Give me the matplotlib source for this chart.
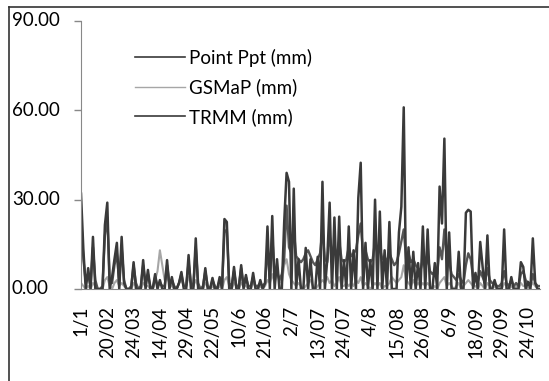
import matplotlib.pyplot as plt
from matplotlib.lines import Line2D
from matplotlib.transforms import blended_transform_factory

# daily rainfall (mm)
point_ppt = [
    32, 13, 0, 7, 0, 17.5, 0, 0, 0, 0, 21.5,
    29, 0, 4, 10, 15.5, 0, 17.5, 2, 0, 0, 0,
    9, 0, 0, 0, 9.7, 0, 6.4, 0, 0, 5, 0,
    3, 0, 0, 9.7, 0, 4, 0, 0, 2, 5.7, 0,
    0, 11.4, 0, 0, 17, 0, 0, 0, 7, 0, 0,
    3.7, 0, 0, 4, 0, 23.5, 22.5, 0, 0, 7.4, 0,
    0, 8, 0, 4.7, 0, 0, 5.4, 0, 0, 3, 0,
    2, 21, 0, 24.5, 0, 10, 0, 0, 22.5, 39, 36,
    0, 33.7, 0, 10, 0, 0, 13.8, 0, 10, 0, 0,
    10.8, 0, 36, 0, 9.7, 29, 0, 24, 0, 24.3, 0,
    9.7, 0, 21, 0, 13, 0, 30.6, 42.4, 0, 15.5, 0,
    9.7, 0, 30, 0, 26, 0, 13, 0, 22.5, 0, 0,
    0, 19, 27.6, 61, 0, 14, 0, 12.5, 0, 8.7, 0,
    21, 0, 20, 0, 0, 8.7, 0, 34.4, 22, 50.5, 0,
    19, 0, 0, 0, 12.5, 0, 0, 25.6, 26.6, 26, 0,
    5.4, 0, 15.8, 7.4, 0, 18, 0, 0, 3, 0, 0,
    0, 20, 0, 0, 4, 0, 0, 0, 9, 7.4, 0,
    2.4, 0, 17, 2, 0, 0,
]
gsmap = [
    2, 1, 0, 1, 0, 2, 1, 0, 0, 0, 3,
    4, 1, 0, 2, 3, 1, 2, 1, 0, 0, 0,
    2, 1, 0, 0, 2, 1, 1, 0, 0, 3, 6,
    13, 8, 3, 4, 2, 1, 0, 0, 2, 3, 1,
    1, 4, 2, 1, 3, 1, 0, 0, 2, 1, 0,
    1, 0, 0, 1, 0, 3, 4, 1, 0, 2, 1,
    0, 2, 1, 1, 0, 0, 2, 1, 0, 1, 0,
    1, 3, 2, 5, 2, 6, 3, 2, 8, 10, 5,
    3, 2, 1, 2, 1, 0, 1, 2, 3, 1, 0,
    1, 2, 3, 2, 4, 2, 3, 1, 2, 4, 1,
    1, 2, 1, 2, 1, 3, 2, 4, 1, 2, 1,
    0, 1, 2, 1, 2, 0, 1, 1, 2, 4, 3,
    2, 3, 4, 8, 3, 2, 1, 3, 1, 2, 1,
    2, 1, 2, 1, 0, 1, 0, 2, 3, 4, 1,
    2, 1, 0, 1, 2, 0, 1, 2, 3, 2, 1,
    1, 0, 2, 1, 0, 2, 1, 0, 1, 0, 1,
    0, 2, 1, 0, 1, 0, 1, 0, 2, 1, 1,
    0, 1, 2, 1, 0, 0,
]
trmm = [
    25, 10, 2, 5, 1, 14, 3, 0, 0, 1, 18,
    24, 3, 2, 8, 12, 2, 14, 3, 0, 0, 1,
    8, 2, 0, 1, 8, 2, 5, 1, 0, 4, 1,
    2, 1, 1, 8, 2, 3, 1, 0, 2, 5, 1,
    1, 9, 2, 1, 14, 2, 0, 1, 6, 1, 0,
    3, 1, 0, 3, 1, 19, 20, 2, 1, 6, 1,
    1, 7, 1, 4, 1, 1, 4, 1, 1, 2, 1,
    2, 14, 3, 18, 4, 6, 3, 5, 10, 28, 14,
    12, 20, 11, 10, 9, 10, 12, 13, 11, 9, 8,
    10, 12, 20, 10, 9, 18, 12, 14, 11, 16, 10,
    9, 10, 14, 11, 12, 13, 18, 22, 12, 13, 10,
    9, 10, 16, 12, 14, 10, 11, 9, 12, 10, 8,
    9, 12, 16, 20, 10, 12, 9, 10, 8, 7, 6,
    10, 7, 11, 6, 5, 6, 5, 14, 10, 20, 10,
    9, 5, 4, 3, 5, 3, 2, 8, 12, 10, 4,
    3, 2, 6, 4, 2, 7, 3, 2, 2, 1, 1,
    2, 6, 2, 1, 3, 1, 2, 1, 5, 6, 3,
    2, 1, 5, 2, 1, 1,
]
date_labels = ['1/1', '20/02', '24/03', '14/04', '29/04', '22/05', '10/6',
               '21/06', '2/7', '13/07', '24/07', '4/8', '15/08', '26/08',
               '6/9', '18/09', '29/09', '24/10']
yticks = [0, 30, 60, 90]

plt.rcParams['font.family'] = ['Lato', 'DejaVu Sans']
fs = 13.5

fig = plt.figure(figsize=(5.49, 3.81), dpi=100)
ax = fig.add_axes([81/549, 1 - 289/381, 459/549, 268/381])

x = range(len(point_ppt))
ax.plot(x, gsmap, color='#a6a6a6', lw=1.5)
ax.plot(x, trmm, color='#555555', lw=1.7)
ax.plot(x, point_ppt, color='#3a3a3a', lw=1.8)

ax.set_xlim(0, len(point_ppt) - 1)
ax.set_ylim(0, 90)

# category ticks every 11th entry
ax.set_xticks([11 * i for i in range(len(date_labels))])
ax.set_xticklabels(date_labels, rotation=90, fontsize=fs)
ax.tick_params(axis='x', length=0, pad=12)

ax.set_yticks(yticks)
ax.set_yticklabels([])
ax.tick_params(axis='y', length=5, width=1, color='#888888', direction='out')
tr = blended_transform_factory(fig.transFigure, ax.transData)
for v in yticks:
    ax.text(12/549, v, f'{v:.2f}', transform=tr, ha='left', va='center',
            fontsize=fs)

for s in ['top', 'right']:
    ax.spines[s].set_visible(False)
ax.spines['left'].set_color('#888888')
ax.spines['bottom'].set_color('#888888')

handles = [Line2D([], [], color='#3a3a3a', lw=1.2),
           Line2D([], [], color='#a6a6a6', lw=1.0),
           Line2D([], [], color='#3a3a3a', lw=1.2)]
ax.legend(handles, ['Point Ppt (mm)', 'GSMaP (mm)', 'TRMM (mm)'],
          loc='upper left', bbox_to_anchor=(0.101, 0.925), borderaxespad=0,
          frameon=False, fontsize=fs, handlelength=2.7, handletextpad=0.2,
          labelspacing=0.62)

# outer frame of the picture
fig.add_artist(Line2D([9/549, 1], [1 - 7/381, 1 - 7/381], color='#333333', lw=1.2))
fig.add_artist(Line2D([9/549, 9/549], [0, 1 - 7/381], color='#333333', lw=1.2))

fig.savefig('out.png', dpi=100)
